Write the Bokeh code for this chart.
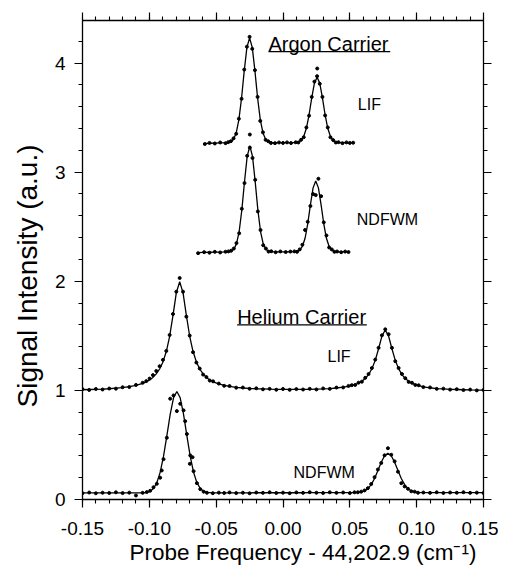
import math
from bokeh.plotting import figure
from bokeh.models import (LinearAxis, FixedTicker, NumeralTickFormatter, CustomJSTickFormatter,
                          Label, Range1d, Title)
from bokeh.embed import file_html
from bokeh.resources import INLINE

# ---------------- data ----------------
# Helium carrier, LIF
hl_x = [-0.150, -0.145, -0.140, -0.135, -0.130, -0.125, -0.120, -0.115, -0.110, -0.105,
        -0.1023, -0.0998, -0.0973, -0.0948, -0.0923, -0.0898, -0.0873, -0.0848, -0.0823, -0.0798, -0.0773,
        -0.0748, -0.0723, -0.0698, -0.0673, -0.0648, -0.0623, -0.0598, -0.0573, -0.0548, -0.0523,
        -0.048, -0.044, -0.040, -0.035, -0.030, -0.025, -0.020, -0.015, -0.010, -0.005, 0.000, 0.005,
        0.010, 0.015, 0.020, 0.025, 0.030, 0.035, 0.040, 0.045, 0.049,
        0.0515, 0.0540, 0.0565, 0.0590, 0.0615, 0.0640, 0.0665, 0.0690, 0.0715, 0.0740, 0.0765,
        0.0790, 0.0815, 0.0840, 0.0865, 0.0890, 0.0915, 0.0940, 0.0965, 0.0990, 0.1015,
        0.105, 0.110, 0.115, 0.120, 0.125, 0.130, 0.135, 0.140, 0.145, 0.150]
hl_fit = [1.006, 1.008, 1.010, 1.012, 1.015, 1.020, 1.025, 1.034, 1.046, 1.064,
          1.078, 1.096, 1.119, 1.151, 1.196, 1.261, 1.356, 1.496, 1.688, 1.896, 1.996,
          1.896, 1.688, 1.496, 1.356, 1.261, 1.196, 1.152, 1.119, 1.096, 1.079,
          1.059, 1.046, 1.036, 1.028, 1.022, 1.018, 1.015, 1.013, 1.011, 1.010, 1.010, 1.009,
          1.009, 1.010, 1.010, 1.012, 1.014, 1.017, 1.022, 1.029, 1.037,
          1.044, 1.054, 1.066, 1.084, 1.109, 1.145, 1.198, 1.275, 1.382, 1.497, 1.553,
          1.497, 1.382, 1.275, 1.198, 1.144, 1.108, 1.083, 1.065, 1.053, 1.043,
          1.033, 1.024, 1.017, 1.013, 1.010, 1.008, 1.006, 1.004, 1.003, 1.002]
hl_data = [1.012, 1.004, 1.013, 1.008, 1.017, 1.016, 1.029, 1.031, 1.050, 1.070,
           1.085, 1.108, 1.140, 1.178, 1.222, 1.280, 1.362, 1.508, 1.700, 1.905, 2.030,
           1.905, 1.676, 1.502, 1.350, 1.255, 1.200, 1.145, 1.122, 1.090, 1.083,
           1.062, 1.042, 1.040, 1.025, 1.026, 1.015, 1.019, 1.010, 1.014, 1.006, 1.013, 1.005,
           1.012, 1.008, 1.014, 1.009, 1.018, 1.014, 1.026, 1.027, 1.041,
           1.048, 1.050, 1.071, 1.080, 1.115, 1.150, 1.205, 1.282, 1.390, 1.505, 1.560,
           1.515, 1.390, 1.268, 1.205, 1.150, 1.112, 1.078, 1.070, 1.050, 1.047,
           1.030, 1.027, 1.014, 1.016, 1.007, 1.011, 1.003, 1.007, 1.000, 1.004]

# Helium carrier, NDFWM
hn_x = [-0.150, -0.145, -0.140, -0.135, -0.130, -0.125, -0.120, -0.115, -0.110, -0.105,
        -0.1019, -0.0994, -0.0969, -0.0944, -0.0919, -0.0894, -0.0869, -0.0844, -0.0819, -0.0794,
        -0.0769, -0.0744, -0.0719, -0.0694, -0.0669, -0.0644, -0.0619, -0.0594, -0.0569,
        -0.0525, -0.048, -0.044, -0.040, -0.035, -0.030, -0.025, -0.020, -0.015, -0.010, -0.005, 0.000,
        0.005, 0.010, 0.015, 0.020, 0.025, 0.030, 0.035, 0.040, 0.045, 0.050, 0.0535,
        0.0560, 0.0585, 0.0610, 0.0635, 0.0660, 0.0685, 0.0710, 0.0735, 0.0760, 0.0785,
        0.0810, 0.0835, 0.0860, 0.0885, 0.0910, 0.0935, 0.0960, 0.0985, 0.1010,
        0.105, 0.110, 0.115, 0.120, 0.125, 0.130, 0.135, 0.140, 0.145, 0.150]
hn_fit = [0.060, 0.060, 0.060, 0.060, 0.060, 0.060, 0.060, 0.060, 0.060, 0.061,
          0.065, 0.076, 0.101, 0.154, 0.249, 0.395, 0.584, 0.781, 0.932, 0.990,
          0.932, 0.781, 0.584, 0.395, 0.249, 0.154, 0.101, 0.076, 0.065,
          0.061, 0.061, 0.061, 0.061, 0.061, 0.061, 0.061, 0.062, 0.062, 0.062, 0.062, 0.062,
          0.062, 0.062, 0.062, 0.063, 0.063, 0.063, 0.063, 0.063, 0.063, 0.063, 0.063,
          0.065, 0.069, 0.079, 0.099, 0.136, 0.193, 0.266, 0.342, 0.401, 0.423,
          0.401, 0.342, 0.266, 0.193, 0.136, 0.099, 0.079, 0.069, 0.065,
          0.063, 0.063, 0.063, 0.063, 0.063, 0.063, 0.063, 0.063, 0.063, 0.063]
hn_data = [0.058, 0.064, 0.057, 0.062, 0.060, 0.066, 0.059, 0.063, 0.037, 0.061,
           0.068, 0.080, 0.112, 0.144, 0.200, 0.370, 0.566, 0.924, 0.954, 0.810,
           0.877, 0.817, 0.600, 0.404, 0.260, 0.150, 0.095, 0.072, 0.062,
           0.058, 0.063, 0.060, 0.065, 0.059, 0.062, 0.057, 0.064, 0.061, 0.066, 0.060, 0.063,
           0.058, 0.065, 0.061, 0.067, 0.062, 0.060, 0.066, 0.061, 0.064, 0.059, 0.066,
           0.066, 0.072, 0.083, 0.104, 0.142, 0.205, 0.275, 0.335, 0.405, 0.470,
           0.410, 0.350, 0.255, 0.150, 0.120, 0.098, 0.075, 0.072, 0.062,
           0.064, 0.061, 0.066, 0.060, 0.064, 0.062, 0.067, 0.061, 0.063, 0.060]
hn_extra_x = [-0.0907, -0.0732, -0.0697, -0.0677]
hn_extra_y = [0.266, 0.718, 0.327, 0.388]

# Argon carrier, LIF
al_x = [-0.0585, -0.055, -0.051, -0.047, -0.043,
        -0.041, -0.039, -0.037, -0.035, -0.033, -0.031, -0.029, -0.027, -0.025,
        -0.023, -0.021, -0.019, -0.017, -0.015, -0.013, -0.011, -0.009,
        -0.006, -0.003, 0.000, 0.003, 0.006,
        0.0095, 0.0115, 0.0135, 0.0155, 0.0175, 0.0195, 0.0215, 0.0235, 0.0255,
        0.0275, 0.0295, 0.0315, 0.0335, 0.0355, 0.0375, 0.0395, 0.0415,
        0.0445, 0.0475, 0.050, 0.0525]
al_fit = [3.262, 3.265, 3.267, 3.269, 3.270,
          3.272, 3.279, 3.302, 3.360, 3.482, 3.680, 3.928, 4.144, 4.230,
          4.144, 3.928, 3.680, 3.482, 3.360, 3.302, 3.279, 3.272,
          3.270, 3.270, 3.270, 3.270, 3.270,
          3.271, 3.276, 3.290, 3.327, 3.402, 3.526, 3.681, 3.816, 3.870,
          3.816, 3.681, 3.526, 3.402, 3.327, 3.290, 3.276, 3.271,
          3.270, 3.270, 3.271, 3.270]
al_data = [3.258, 3.268, 3.263, 3.272, 3.266,
           3.275, 3.284, 3.310, 3.352, 3.490, 3.672, 3.940, 4.150, 4.240,
           4.130, 3.935, 3.690, 3.470, 3.365, 3.296, 3.283, 3.268,
           3.266, 3.272, 3.268, 3.273, 3.267,
           3.274, 3.272, 3.296, 3.320, 3.410, 3.518, 3.690, 3.830, 3.880,
           3.810, 3.690, 3.520, 3.410, 3.320, 3.294, 3.272, 3.275,
           3.266, 3.273, 3.268, 3.270]
al_extra_x = [0.0256]
al_extra_y = [3.950]

# Argon carrier, NDFWM
an_x = [-0.0635, -0.059, -0.055, -0.051, -0.047, -0.043,
        -0.0408, -0.0388, -0.0368, -0.0348, -0.0328, -0.0308, -0.0288, -0.0268, -0.0248,
        -0.0228, -0.0208, -0.0188, -0.0168, -0.0148, -0.0128, -0.0108, -0.0088,
        -0.0055, -0.002, 0.002, 0.0055,
        0.0085, 0.0105, 0.0125, 0.0145, 0.0165, 0.0185, 0.0205, 0.0225, 0.0245,
        0.0265, 0.0285, 0.0305, 0.0325, 0.0345, 0.0365, 0.0385, 0.0405,
        0.0435, 0.0465, 0.049]
an_fit = [2.262, 2.264, 2.266, 2.267, 2.268, 2.269,
          2.271, 2.276, 2.294, 2.343, 2.456, 2.653, 2.912, 3.145, 3.240,
          3.145, 2.912, 2.653, 2.456, 2.343, 2.294, 2.276, 2.271,
          2.270, 2.270, 2.270, 2.270,
          2.271, 2.274, 2.286, 2.319, 2.394, 2.527, 2.700, 2.856, 2.920,
          2.856, 2.700, 2.527, 2.394, 2.319, 2.286, 2.274, 2.271,
          2.270, 2.271, 2.270]
an_data = [2.258, 2.267, 2.262, 2.270, 2.264, 2.271,
           2.274, 2.280, 2.300, 2.350, 2.440, 2.665, 2.900, 3.150, 3.225,
           3.130, 2.930, 2.640, 2.470, 2.330, 2.300, 2.272, 2.275,
           2.266, 2.273, 2.268, 2.272,
           2.274, 2.270, 2.292, 2.335, 2.470, 2.545, 2.690, 2.800, 2.790,
           2.940, 2.780, 2.540, 2.420, 2.310, 2.292, 2.270, 2.273,
           2.266, 2.272, 2.268]
an_extra_x = [-0.0248]
an_extra_y = [3.345]

# axes: tick positions and titles
x_major_ticks = [-0.15, -0.10, -0.05, 0.0, 0.05, 0.10, 0.15]
x_minor_ticks = [round(-0.15 + 0.01 * i, 2) for i in range(31)]
y_major_ticks = [0, 1, 2, 3, 4]
y_minor_ticks = [round(0.2 * i, 1) for i in range(23)]
x_title = "Probe Frequency - 44,202.9 (cm\u207b\u00b9)"
y_title = "Signal Intensity (a.u.)"

# ---------------- figure ----------------
FONT = "Liberation Sans"
p = figure(frame_width=401, frame_height=479,
           x_range=Range1d(-0.15, 0.15), y_range=Range1d(0, 4.39),
           x_axis_location=None, y_axis_location=None,
           min_border_left=82, min_border_right=15, min_border_top=20, min_border_bottom=72,
           output_backend="svg", toolbar_location=None)
p.grid.visible = False
p.outline_line_color = None
p.background_fill_color = "white"
p.border_fill_color = "white"


def make_axis(kind, show_labels):
    if kind == "x":
        ticker = FixedTicker(ticks=x_major_ticks, minor_ticks=x_minor_ticks)
        fmt = NumeralTickFormatter(format="0.00")
        standoff = 14
    else:
        ticker = FixedTicker(ticks=y_major_ticks, minor_ticks=y_minor_ticks)
        fmt = NumeralTickFormatter(format="0")
        standoff = 9
    if not show_labels:
        fmt = CustomJSTickFormatter(code="return ''")
        standoff = 0
    ax = LinearAxis(ticker=ticker, formatter=fmt)
    ax.axis_line_color = "black"
    ax.axis_line_width = 1.3
    ax.major_tick_line_color = "black"
    ax.major_tick_line_width = 1.2
    ax.minor_tick_line_color = "black"
    ax.minor_tick_line_width = 1.1
    ax.major_tick_in = 0
    ax.major_tick_out = 8
    ax.minor_tick_in = 0
    ax.minor_tick_out = 4
    ax.major_label_text_font = FONT
    ax.major_label_text_font_size = "19px"
    ax.major_label_text_color = "black"
    ax.major_label_standoff = standoff
    return ax


p.add_layout(make_axis("x", True), "below")
p.add_layout(make_axis("x", False), "above")
p.add_layout(make_axis("y", True), "left")
p.add_layout(make_axis("y", False), "right")

# axis titles (as titles so that they can be shifted like in the reference)
p.add_layout(Title(text=x_title, text_font=FONT, text_font_size="22.5px", text_font_style="normal",
                   text_color="black", align="left", offset=47, standoff=1), "below")
p.add_layout(Title(text=y_title, text_font=FONT, text_font_size="28px", text_font_style="normal",
                   text_color="black", align="left", offset=92, standoff=18), "left")

# fits (lines) and measured points (dots)
for xs, fit, dat in [(hl_x, hl_fit, hl_data), (hn_x, hn_fit, hn_data),
                     (al_x, al_fit, al_data), (an_x, an_fit, an_data)]:
    p.line(xs, fit, line_color="black", line_width=1.3)
    p.scatter(xs, dat, size=3.0, marker="circle", fill_color="black", line_color="black")

for xs, ys in [(hn_extra_x, hn_extra_y), (al_extra_x, al_extra_y), (an_extra_x, an_extra_y)]:
    p.scatter(xs, ys, size=3.0, marker="circle", fill_color="black", line_color="black")

# annotations
texts = [
    ("Argon Carrier", -0.0109, 4.177, "20px"),
    ("LIF", 0.0560, 3.622, "16px"),
    ("NDFWM", 0.0552, 2.562, "16px"),
    ("Helium Carrier", -0.0343, 1.670, "20px"),
    ("LIF", 0.0333, 1.315, "16px"),
    ("NDFWM", 0.0079, 0.248, "16px"),
]
for t, x, y, fs in texts:
    p.add_layout(Label(x=x, y=y, text=t, text_font=FONT, text_font_size=fs,
                       text_align="left", text_baseline="middle", text_color="black"))

# underlines of the carrier headings
p.segment(x0=[-0.0109, -0.0343], y0=[4.104, 1.600], x1=[0.0802, 0.0627], y1=[4.104, 1.600],
          line_color="black", line_width=1.2)

open("out.html", "w").write(file_html(p, INLINE))
